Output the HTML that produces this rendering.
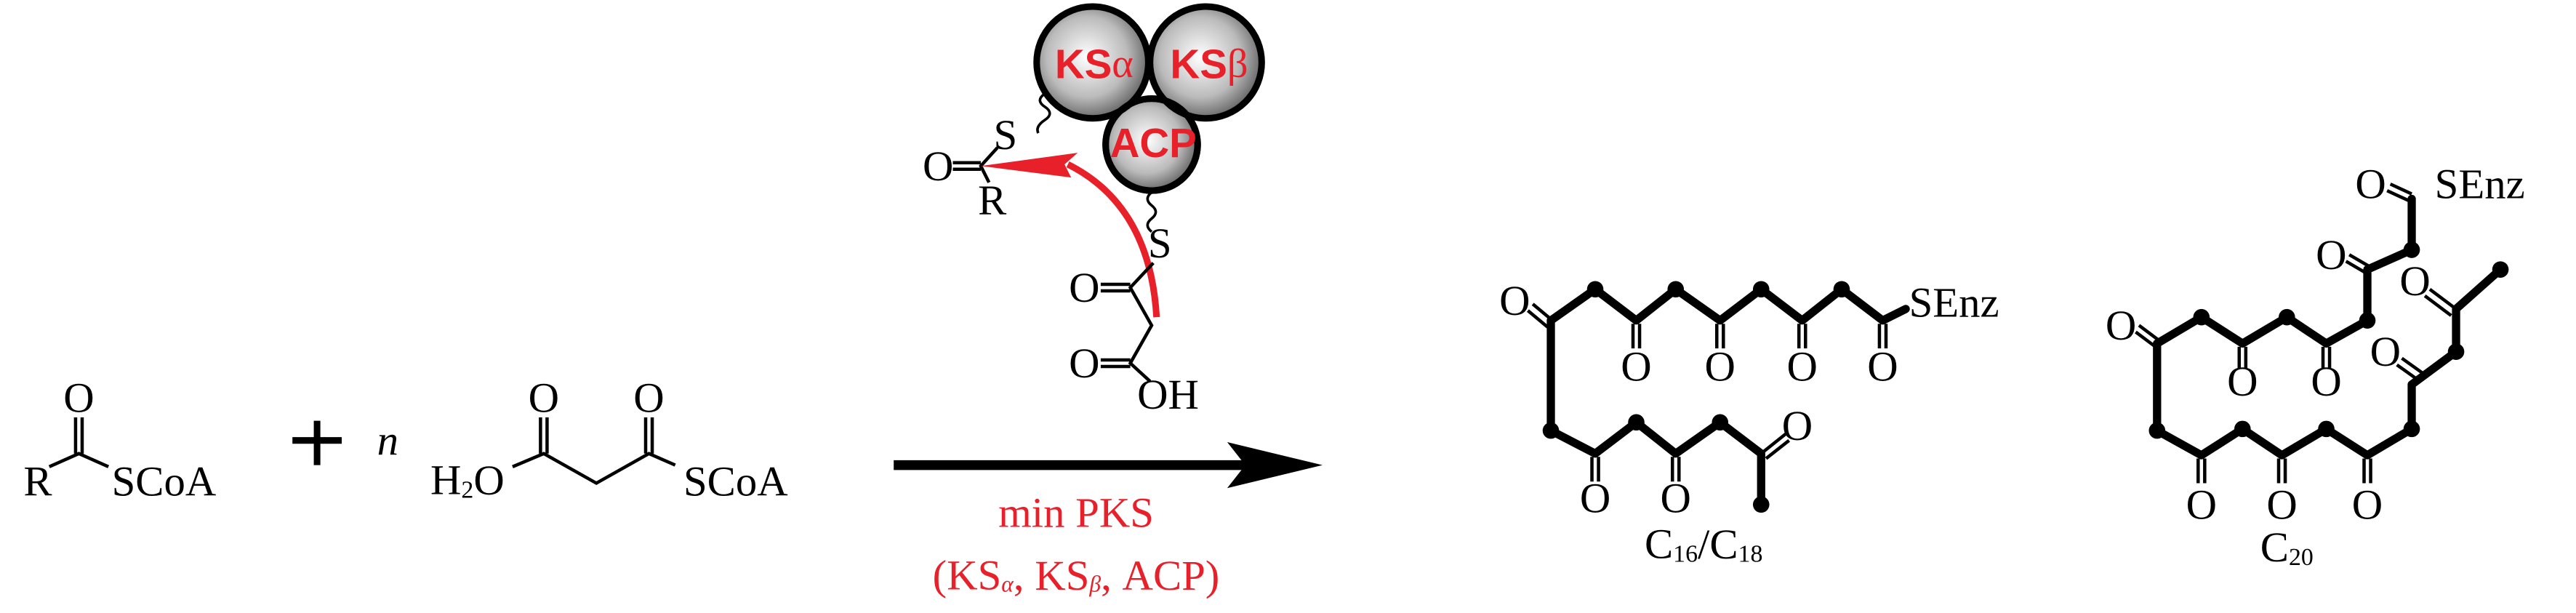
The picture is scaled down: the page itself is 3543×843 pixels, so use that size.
<!DOCTYPE html>
<html><head><meta charset="utf-8"><style>
html,body{margin:0;padding:0;background:#fff;}
svg{display:block;}
text{font-family:"Liberation Serif",serif;font-size:26px;fill:#000;}
.k{stroke:#000;stroke-width:5;fill:none;stroke-linecap:round;stroke-linejoin:round;}
.t{stroke:#000;stroke-width:2;fill:none;}
.w{stroke:#000;stroke-width:1.6;fill:none;}
.r{fill:#e8202a;}
.b{font-family:"Liberation Sans",sans-serif;font-weight:bold;fill:#e8202a;font-size:25px;}
</style></head><body>
<svg width="3543" height="843" viewBox="0 0 1568 373" preserveAspectRatio="none" xmlns="http://www.w3.org/2000/svg">
<defs>
<radialGradient id="g" cx="0.45" cy="0.45" r="0.6"><stop offset="0" stop-color="#fff"/><stop offset="0.6" stop-color="#bbb"/><stop offset="1" stop-color="#555"/></radialGradient>
</defs>
<!-- left acyl-CoA -->
<text x="48" y="242" text-anchor="middle" dominant-baseline="central">O</text>
<line class="t" x1="46" y1="254" x2="46" y2="276"/><line class="t" x1="50" y1="254" x2="50" y2="276"/>
<polyline class="t" points="30,284 48,276 66,284"/>
<text x="23" y="293" text-anchor="middle" dominant-baseline="central">R</text>
<text x="68" y="293" dominant-baseline="central">SCoA</text>
<line x1="178" y1="268" x2="208" y2="268" stroke="#000" stroke-width="4"/>
<line x1="193" y1="256" x2="193" y2="283" stroke="#000" stroke-width="4"/>
<text x="236" y="268" text-anchor="middle" dominant-baseline="central" font-style="italic">n</text>
<!-- malonyl CoA -->
<text x="262" y="292" dominant-baseline="central">H<tspan font-size="15" dy="6">2</tspan><tspan dy="-6">O</tspan></text>
<text x="331" y="242" text-anchor="middle" dominant-baseline="central">O</text>
<text x="395" y="242" text-anchor="middle" dominant-baseline="central">O</text>
<line class="t" x1="329" y1="254" x2="329" y2="276"/><line class="t" x1="333" y1="254" x2="333" y2="276"/>
<line class="t" x1="393" y1="254" x2="393" y2="276"/><line class="t" x1="397" y1="254" x2="397" y2="276"/>
<polyline class="t" points="312,284 331,276 363,294 395,276 411,283"/>
<text x="416" y="293" dominant-baseline="central">SCoA</text>
<!-- arrow -->
<line x1="544" y1="283" x2="760" y2="283" stroke="#000" stroke-width="6"/>
<polygon points="747,269 805,283 747,297 758,283" fill="#000"/>
<text x="655" y="312" text-anchor="middle" dominant-baseline="central" class="r" font-size="24">min PKS</text>
<text x="655" y="350" text-anchor="middle" dominant-baseline="central" class="r" font-size="24">(KS<tspan font-size="14" font-style="italic" dy="5">α</tspan><tspan dy="-5">, KS</tspan><tspan font-size="14" font-style="italic" dy="5">β</tspan><tspan dy="-5">, ACP)</tspan></text>
<!-- enzyme -->
<path class="w" d="M636,57 q-6,4 0,8 q6,4 0,8 q-6,4 -4,8"/>
<path class="w" d="M701,117 q-5,4 0,8 q5,4 0,8 q-5,4 0,8"/>
<circle cx="701" cy="88" r="28" fill="url(#g)" stroke="#000" stroke-width="4"/>
<circle cx="665" cy="38" r="34" fill="url(#g)" stroke="#000" stroke-width="4"/>
<circle cx="734" cy="38" r="34" fill="url(#g)" stroke="#000" stroke-width="4"/>
<circle cx="701" cy="88" r="28" fill="none" stroke="#000" stroke-width="4"/>
<text x="666" y="39" text-anchor="middle" dominant-baseline="central" class="b">KS<tspan font-family="Liberation Serif" font-weight="normal">α</tspan></text>
<text x="736" y="39" text-anchor="middle" dominant-baseline="central" class="b">KS<tspan font-family="Liberation Serif" font-weight="normal">β</tspan></text>
<text x="702" y="87" text-anchor="middle" dominant-baseline="central" class="b" font-size="23">ACP</text>
<text x="612" y="82" text-anchor="middle" dominant-baseline="central" font-size="22">S</text>
<text x="571" y="101" text-anchor="middle" dominant-baseline="central" font-size="22">O</text>
<line class="t" x1="580" y1="99" x2="597" y2="99"/><line class="t" x1="580" y1="103" x2="597" y2="103"/>
<polyline class="t" points="607,90 597,101 602,111"/>
<text x="604" y="122" text-anchor="middle" dominant-baseline="central" font-size="22">R</text>
<path d="M704,193 Q700,125 650,100" stroke="#e8202a" stroke-width="4" fill="none"/>
<polygon points="597,101 656,93 648,100 652,108" fill="#e8202a"/>
<text x="706" y="148" text-anchor="middle" dominant-baseline="central" font-size="22">S</text>
<polyline class="t" points="702,160 688,175 701,198 688,221 700,232"/>
<text x="660" y="175" text-anchor="middle" dominant-baseline="central" font-size="22">O</text>
<line class="t" x1="670" y1="173" x2="688" y2="173"/><line class="t" x1="670" y1="177" x2="688" y2="177"/>
<text x="660" y="221" text-anchor="middle" dominant-baseline="central" font-size="22">O</text>
<line class="t" x1="670" y1="219" x2="688" y2="219"/><line class="t" x1="670" y1="223" x2="688" y2="223"/>
<text x="711" y="240" text-anchor="middle" dominant-baseline="central" font-size="22">OH</text>
<!-- C16/C18 -->
<g>
<polyline class="k" points="944,195 971,176 996,195 1020,176 1047,195 1072,176 1097,195 1121,176 1146,195 1160,188"/>
<polyline class="k" points="944,195 944,262 971,276 996,257 1020,276 1047,257 1072,276 1072,307"/>
<g fill="#000"><circle cx="971" cy="176" r="5"/><circle cx="1020" cy="176" r="5"/><circle cx="1072" cy="176" r="5"/><circle cx="1121" cy="176" r="5"/><circle cx="944" cy="262" r="5"/><circle cx="996" cy="257" r="5"/><circle cx="1047" cy="257" r="5"/><circle cx="1072" cy="307" r="5"/></g>
<text x="922" y="183" text-anchor="middle" dominant-baseline="central">O</text>
<polyline class="t" points="930,189 942,199"/><polyline class="t" points="933,185 945,195"/>
<g class="t"><path d="M994,197 v15 M998,197 v15 M1045,197 v15 M1049,197 v15 M1095,197 v15 M1099,197 v15 M1144,197 v15 M1148,197 v15 M969,278 v15 M973,278 v15 M1018,278 v15 M1022,278 v15"/></g>
<g text-anchor="middle" dominant-baseline="central"><text x="996" y="223">O</text><text x="1047" y="223">O</text><text x="1097" y="223">O</text><text x="1146" y="223">O</text><text x="971" y="303">O</text><text x="1020" y="303">O</text><text x="1094" y="259">O</text></g>
<polyline class="t" points="1072,276 1087,264"/><polyline class="t" points="1075,279 1089,268"/>
<text x="1162" y="184" dominant-baseline="central">SEnz</text>
<text x="1037" y="331" text-anchor="middle" dominant-baseline="central">C<tspan font-size="15" dy="6">16</tspan><tspan dy="-6">/C</tspan><tspan font-size="15" dy="6">18</tspan></text>
</g>
<!-- C20 -->
<g>
<polyline class="k" points="1313,209 1313,262 1340,277 1365,261 1389,277 1416,261 1441,277 1468,261 1468,234 1495,214 1495,188 1522,164"/>
<polyline class="k" points="1313,209 1340,193 1365,209 1392,193 1416,209 1441,195 1441,164 1468,152 1468,121"/>
<g fill="#000"><circle cx="1340" cy="193" r="5"/><circle cx="1392" cy="193" r="5"/><circle cx="1441" cy="195" r="5"/><circle cx="1468" cy="152" r="5"/><circle cx="1313" cy="262" r="5"/><circle cx="1365" cy="261" r="5"/><circle cx="1416" cy="261" r="5"/><circle cx="1468" cy="261" r="5"/><circle cx="1495" cy="214" r="5"/><circle cx="1522" cy="164" r="5"/></g>
<g class="t"><path d="M1363,211 v13 M1367,211 v13 M1414,211 v13 M1418,211 v13 M1338,279 v15 M1342,279 v15 M1387,279 v15 M1391,279 v15 M1439,279 v15 M1443,279 v15"/>
<path d="M1300,202 l12,9 M1302,198 l12,9 M1428,159 l12,7 M1430,155 l12,7 M1453,116 l13,6 M1455,112 l13,6 M1476,228 l-14,-10 M1473,232 l-14,-10 M1495,188 l-16,-12 M1492,192 l-16,-12"/></g>
<g text-anchor="middle" dominant-baseline="central"><text x="1291" y="198">O</text><text x="1365" y="232">O</text><text x="1416" y="232">O</text><text x="1340" y="307">O</text><text x="1389" y="307">O</text><text x="1441" y="307">O</text><text x="1419" y="155">O</text><text x="1443" y="112">O</text><text x="1470" y="171">O</text><text x="1452" y="214">O</text></g>
<text x="1482" y="112" dominant-baseline="central">SEnz</text>
<text x="1392" y="333" text-anchor="middle" dominant-baseline="central">C<tspan font-size="15" dy="6">20</tspan></text>
</g>
</svg>
</body></html>
